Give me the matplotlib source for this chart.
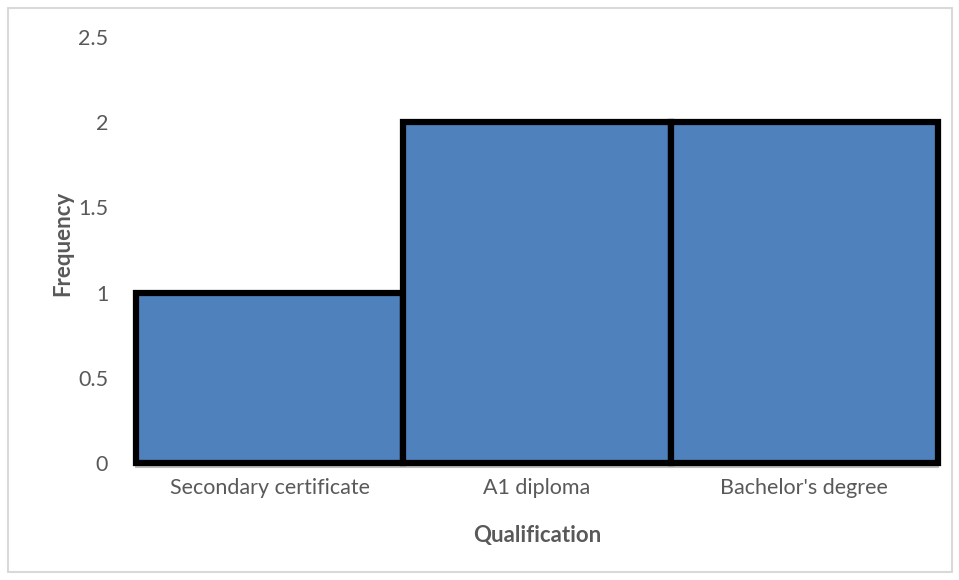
import matplotlib.pyplot as plt
from matplotlib.patches import Rectangle

categories = ["Secondary certificate", "A1 diploma", "Bachelor's degree"]
frequency = [1, 2, 2]
y_ticks = [0, 0.5, 1, 1.5, 2, 2.5]
y_tick_labels = ["0", "0.5", "1", "1.5", "2", "2.5"]

plt.rcParams['font.family'] = ['Lato', 'DejaVu Sans']

fig = plt.figure(figsize=(9.59, 5.80), dpi=100)
ax = fig.add_axes([0.1418, 0.2017, 0.978 - 0.1418, 0.936 - 0.2017])

# light outer border like the Excel chart area
fig.patches.append(Rectangle((8 / 959, 8 / 580), 944 / 959, 564 / 580,
                             transform=fig.transFigure, fill=False,
                             edgecolor='#d9d9d9', linewidth=1.5))

x = range(len(categories))
ax.bar(x, frequency, width=1.0, color='#4f81bd', edgecolor='black',
       linewidth=4.5, clip_on=False, zorder=3)

ax.set_xlim(-0.5, len(categories) - 0.5)
ax.set_ylim(0, 2.5)
ax.set_yticks(y_ticks)
ax.set_yticklabels(y_tick_labels)
ax.set_xticks(list(x))
ax.set_xticklabels(categories)

for side in ['top', 'right', 'left']:
    ax.spines[side].set_visible(False)
ax.spines['bottom'].set_color('#bfbfbf')
ax.spines['bottom'].set_linewidth(1.5)
ax.spines['bottom'].set_position(('outward', 3))

ax.tick_params(axis='both', length=0, labelsize=15.5, colors='#595959')
ax.tick_params(axis='y', pad=20)
ax.tick_params(axis='x', pad=8)

ax.set_xlabel('Qualification', fontsize=16, fontweight='bold', color='#595959')
ax.set_ylabel('Frequency', fontsize=16, fontweight='bold', color='#595959')
ax.xaxis.set_label_coords(0.5, -0.146)
ax.yaxis.set_label_coords(-0.078, 0.516)

fig.savefig('out.png', dpi=100)
